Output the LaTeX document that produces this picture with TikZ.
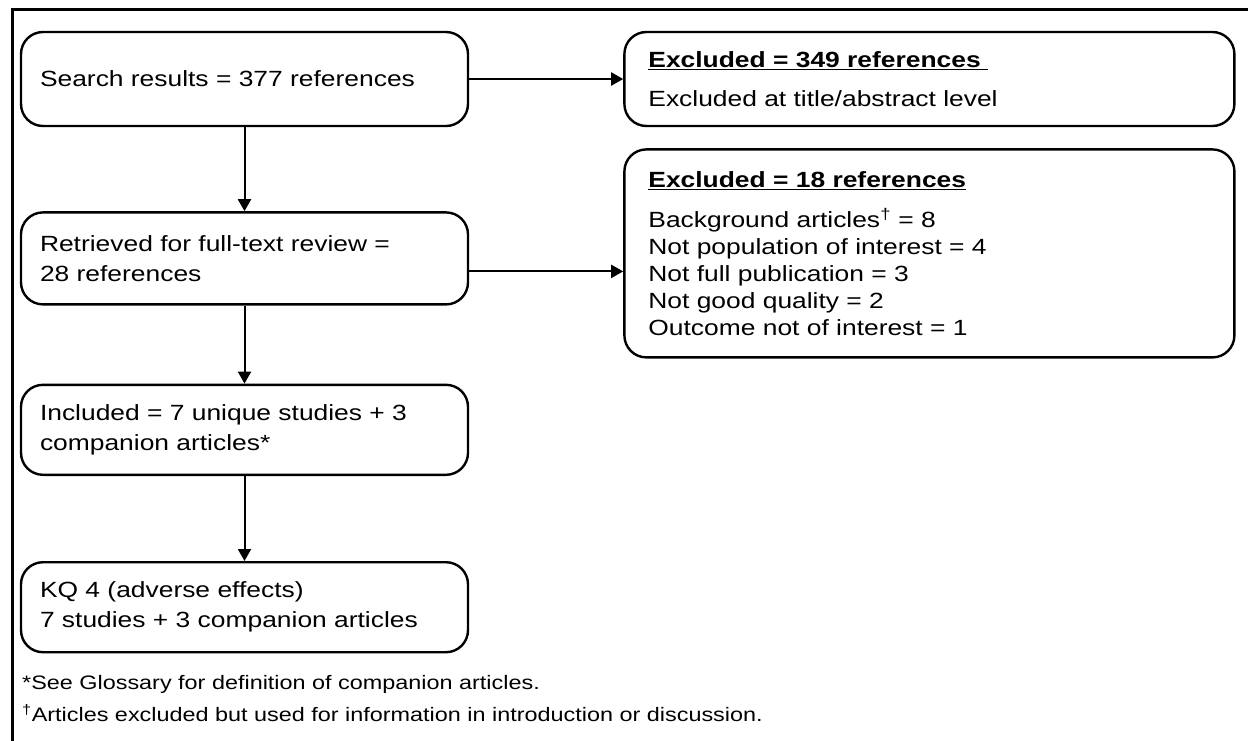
\documentclass[tikz,border=0pt]{standalone}
\usepackage{fontspec}
\setmainfont{Liberation Sans}
\newfontfamily\flowfont[FakeStretch=1.2]{Liberation Sans}
\usetikzlibrary{arrows.meta,positioning}
\newcommand{\hdr}[1]{\textbf{\underline{#1}}}

\begin{document}
\begin{tikzpicture}[
      x=1pt, y=1pt, >={Triangle[length=12pt,width=13pt]},
      flow/.style={draw, line width=2.4pt, rounded corners=22pt, minimum width=447pt,
                   text width=409pt, inner xsep=19pt, align=left,
                   font=\flowfont\fontsize{22}{30}\selectfont},
      excl/.style={draw, line width=2.4pt, rounded corners=22pt, minimum width=610pt,
                   text width=562pt, inner xsep=24pt, align=left,
                   font=\flowfont\fontsize{22}{27}\selectfont},
      note/.style={anchor=west, inner sep=0pt, font=\flowfont\fontsize{19.5}{24}\selectfont},
      arr/.style={->, line width=2pt}
    ]
    \useasboundingbox (0,0) rectangle (1248,-740);
    \draw[line width=3pt] (12,-9) rectangle (1270,-770);

    \node[flow, minimum height=94pt] (search) at (244.5,-79) {Search results = 377 references};
    \node[flow, minimum height=92pt, below=84pt of search] (retrieved)
      {Retrieved for full-text review =\\28 references};
    \node[flow, minimum height=90pt, below=78pt of retrieved] (included)
      {Included = 7 unique studies + 3\\companion articles*};
    \node[flow, minimum height=90pt, below=85pt of included] (kq)
      {KQ 4 (adverse effects)\\7 studies + 3 companion articles};

    \node[excl, minimum height=94pt, right=154pt of search] (excl1)
      {\hdr{Excluded = 349 references\ }\\[12pt]Excluded at title/abstract level};
    \node[excl, minimum height=208pt, below=21pt of excl1] (excl2)
      {\hdr{Excluded = 18 references}\\[13pt]
       Background articles\textsuperscript{\dag} = 8\\
       Not population of interest = 4\\
       Not full publication = 3\\
       Not good quality = 2\\
       Outcome not of interest = 1};

    % main flow
    \draw[arr] (search) -- (retrieved);
    \draw[arr] (retrieved) -- (included);
    \draw[arr] (included) -- (kq);

    % exclusions
    \draw[arr] (search) -- (excl1);
    \draw[arr] ([yshift=-13pt]retrieved.east) -- ([yshift=-13pt]retrieved.east -| excl2.west);

    \node[note] (note1) at (22,-684) {*See Glossary for definition of companion articles.};
    \node[note] (note2) at (22,-713)
      {\textsuperscript{\dag}Articles excluded but used for information in introduction or discussion.};
  \end{tikzpicture}
\end{document}
